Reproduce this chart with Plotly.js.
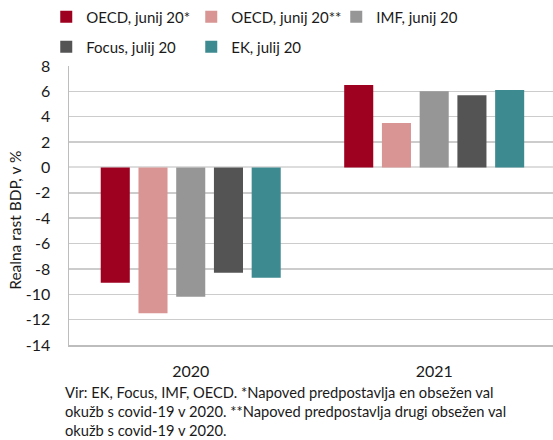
<!DOCTYPE html>
<html><head><meta charset="utf-8">
<script src="https://cdn.plot.ly/plotly-3.0.1.min.js"></script>
<style>body{margin:0;padding:0;background:#fff}#chart{width:553px;height:440px}</style>
</head><body><div id="chart"></div>
<script>
const categories = ['2020', '2021'];
const seriesNames = ['OECD, junij 20*', 'OECD, junij 20**', 'IMF, junij 20', 'Focus, julij 20', 'EK, julij 20'];
const oecd1 = [-9.1, 6.5];
const oecd2 = [-11.5, 3.5];
const imf = [-10.2, 6.0];
const focus = [-8.3, 5.7];
const ek = [-8.7, 6.1];
const yTicks = [8, 6, 4, 2, 0, -2, -4, -6, -8, -10, -12, -14];
const yTitle = 'Realna rast BDP, v %';
const footnote = 'Vir: EK, Focus, IMF, OECD. *Napoved predpostavlja en obsežen val<br>okužb s covid-19 v 2020. **Napoved predpostavlja drugi obsežen val<br>okužb s covid-19 v 2020.';
const colors = ['#9e0020', '#d99594', '#969696', '#545454', '#3e8a91'];
const values = [oecd1, oecd2, imf, focus, ek];
const legendOf = ['legend', 'legend', 'legend', 'legend2', 'legend2'];
const FONT = 'Lato, sans-serif';

const traces = values.map((v, i) => ({
  type: 'bar', x: categories, y: v, name: seriesNames[i], legend: legendOf[i],
  marker: {color: colors[i], line: {width: 0}}
}));

const legBase = {orientation: 'h', xanchor: 'left', yanchor: 'middle', entrywidth: 100,
  font: {family: FONT, size: 15, color: '#1a1a1a'}, traceorder: 'normal', itemwidth: 30,
  bgcolor: 'rgba(0,0,0,0)'};

const layout = {
  width: 553, height: 440,
  margin: {l: 69, r: 0, t: 66, b: 95},
  paper_bgcolor: '#fff', plot_bgcolor: '#fff',
  font: {family: FONT, size: 16, color: '#1a1a1a'},
  barmode: 'group', bargap: 0.225, bargroupgap: 0.23,
  showlegend: true,
  legend: Object.assign({x: -0.047, y: 1.176}, legBase),
  legend2: Object.assign({x: -0.047, y: 1.068}, legBase),
  xaxis: {type: 'category', range: [-0.5, 1.488], showgrid: false, showline: true,
    linecolor: '#bdbdbd', linewidth: 1.5, ticks: '', tickfont: {size: 16}, ticklabelstandoff: 11, automargin: false},
  yaxis: {range: [-14, 8], tickvals: yTicks, ticktext: yTicks.map(String),
    showgrid: true, gridcolor: '#cccccc', gridwidth: 1.5, zeroline: true, zerolinecolor: '#dddddd', zerolinewidth: 2,
    showline: true, linecolor: '#bdbdbd', linewidth: 1.5, ticks: '', tickfont: {size: 16}, ticklabelstandoff: 14,
    automargin: false},
  annotations: [{
    xref: 'paper', yref: 'paper', x: -0.012, y: -0.128, xanchor: 'left', yanchor: 'top', align: 'left',
    showarrow: false, font: {family: FONT, size: 14.7, color: '#1a1a1a'}, text: footnote
  }, {
    xref: 'paper', yref: 'paper', x: -0.112, y: 0.448, xanchor: 'center', yanchor: 'middle',
    textangle: -90, showarrow: false, font: {family: FONT, size: 15.5, color: '#1a1a1a'}, text: yTitle
  }]
};
Plotly.newPlot('chart', traces, layout, {displayModeBar: false, staticPlot: true});
</script></body></html>
